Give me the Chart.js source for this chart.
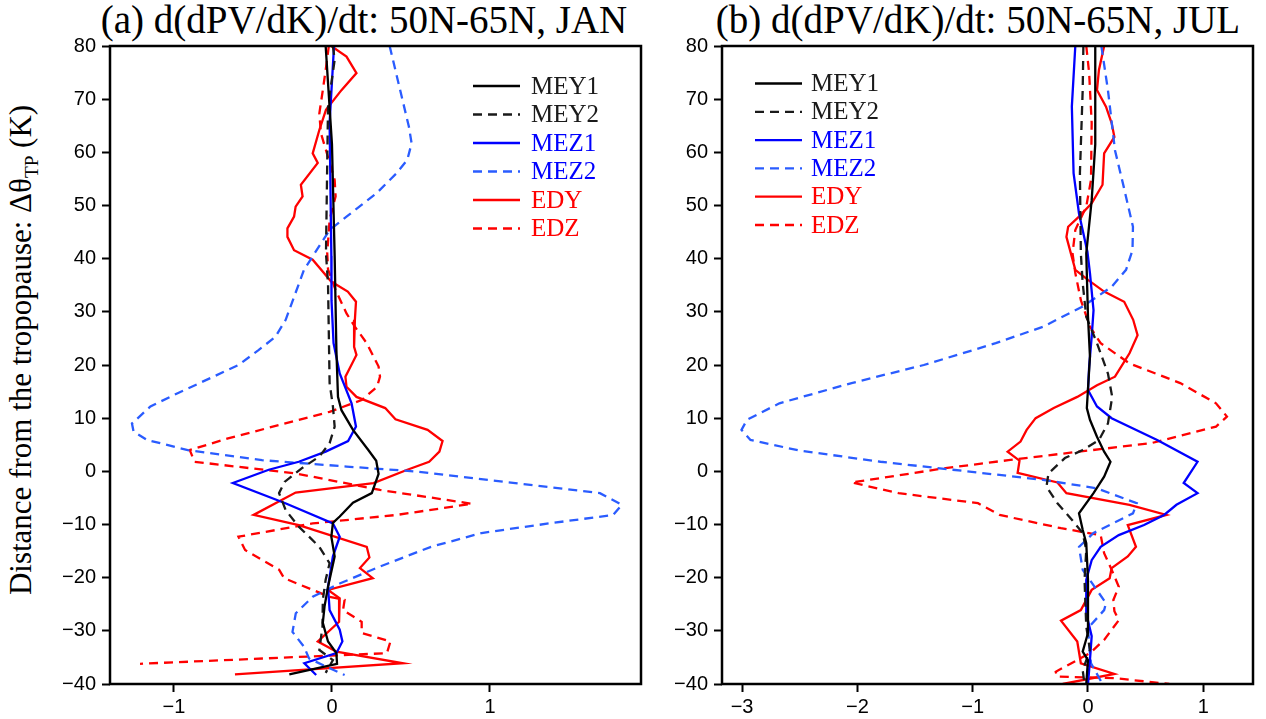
<!DOCTYPE html>
<html>
<head>
<meta charset="utf-8">
<script src="https://cdn.jsdelivr.net/npm/chart.js@4"></script>
<style>
  body { margin: 0; background: #fff; width: 1266px; height: 719px; position: relative; overflow: hidden; font-family: "Liberation Serif", serif; }
  canvas { position: absolute; top: 0; }
  #ca { left: 0; }
  #cb { left: 660px; }
  .title { position: absolute; top: -2px; font-size: 39px; line-height: 44px; white-space: nowrap; transform: translateX(-50%); }
  .ylab { position: absolute; left: 23px; top: 350px; font-size: 31px; white-space: nowrap; transform: translate(-50%, -50%) rotate(-90deg); }
  .ylab sub { font-size: 62%; }
</style>
</head>
<body>
<div class="title" style="left:364px">(a) d(dPV/dK)/dt: 50N-65N, JAN</div>
<div class="title" style="left:978px">(b) d(dPV/dK)/dt: 50N-65N, JUL</div>
<div class="ylab">Distance from the tropopause: Δθ<sub>TP</sub> (K)</div>
<canvas id="ca" width="660" height="719"></canvas>
<canvas id="cb" width="606" height="719"></canvas>
<script>
// axis ticks
const yTicks = [-40, -30, -20, -10, 0, 10, 20, 30, 40, 50, 60, 70, 80];
const janXTicks = [-1, 0, 1];
const julXTicks = [-3, -2, -1, 0, 1];
const seriesNames = ['MEY1', 'MEY2', 'MEZ1', 'MEZ2', 'EDY', 'EDZ'];

// profiles as [value, delta theta]
// JAN
const janMEY1 = [[-0.04,80],[0,61.5],[0.017,40.5],[0.028,22.8],[0.038,14],[0.06,11.5],[0.133,7.8],[0.23,4],[0.28,2],[0.295,-0.5],[0.252,-4.1],[0.133,-5.9],[0.049,-8.5],[0.006,-9.7],[-0.004,-12.3],[0.017,-16],[-0.025,-21.7],[-0.047,-25.4],[-0.058,-28.5],[-0.025,-32],[0.028,-34.2],[0.032,-36.2],[-0.27,-38.2]];
const janMEY2 = [[0.006,80],[0.017,77.4],[-0.025,68.6],[-0.038,41],[-0.025,35.3],[-0.015,16.6],[0.006,12.2],[0.017,8.4],[-0.015,5.3],[-0.079,2.8],[-0.19,0.6],[-0.3,-2],[-0.335,-4.1],[-0.293,-7.3],[-0.21,-10.4],[-0.08,-14.2],[-0.015,-17.3],[-0.04,-20.4],[-0.058,-24.2],[-0.06,-29.2],[-0.08,-33.6],[0.006,-35.5],[-0.04,-37.9]];
const janMEZ1 = [[0.013,80],[-0.015,65.6],[-0.004,40.5],[-0.003,32.2],[0.01,24.1],[0.049,18.4],[0.124,12.8],[0.152,8.4],[0.102,5.7],[-0.04,3.7],[-0.21,1.8],[-0.4,0.3],[-0.627,-2.2],[-0.295,-6],[0.006,-9.8],[0.049,-12.3],[0.006,-16],[-0.025,-21.7],[-0.015,-26.1],[0.049,-29.8],[0.066,-32],[0.028,-34.2],[-0.175,-36.1],[-0.1,-38.3]];
const janMEZ2 = [[0.365,80],[0.487,64.8],[0.504,61.7],[0.477,58.6],[0.41,56.1],[0.285,52.4],[0.092,47.9],[-0.015,45.4],[-0.11,41],[-0.177,37.9],[-0.293,28.5],[-0.358,25.3],[-0.465,22.8],[-0.592,20],[-0.765,17.6],[-0.977,14.7],[-1.149,12.2],[-1.266,9],[-1.256,7.5],[-1.17,5.9],[-0.913,4],[-0.443,2.1],[0.092,0.9],[0.519,0],[1.16,-2.2],[1.696,-4.1],[1.834,-6.3],[1.78,-8.2],[1.373,-9.8],[0.947,-11.6],[0.627,-14.2],[0.304,-17.9],[0.049,-21.1],[-0.122,-23.6],[-0.229,-26.7],[-0.25,-30.2],[-0.177,-33],[-0.145,-35.2],[-0.038,-36.7],[0.08,-38.3]];
const janEDY = [[-0.005,80],[0.092,78],[0.155,74.9],[0.06,71.7],[-0.038,68],[-0.08,64.2],[-0.122,59.8],[-0.09,58],[-0.197,53.9],[-0.186,51.7],[-0.23,49.8],[-0.24,47.9],[-0.282,45.7],[-0.282,44.1],[-0.24,41.6],[-0.122,39.8],[-0.005,35.7],[0.1,33.8],[0.152,31.9],[0.145,28.5],[0.14,23.4],[0.155,21.9],[0.085,17.8],[0.092,15.9],[0.155,14],[0.337,11.9],[0.402,9.8],[0.605,7.8],[0.7,5.7],[0.68,3.7],[0.615,1.8],[0.477,0.3],[0.263,-2.2],[-0.23,-4],[-0.496,-8.2],[-0.21,-10.1],[0.22,-14.2],[0.237,-16.2],[0.177,-18.2],[0.258,-20.1],[-0.025,-22.3],[0.049,-23.9],[0.045,-28.3],[-0.09,-32],[0.028,-33.9],[0.45,-36.1],[-0.614,-38.2]];
const janEDZ = [[-0.02,80],[-0.037,76.1],[-0.058,71.7],[-0.08,67.3],[-0.07,63.6],[-0.038,60.4],[0.017,54.8],[0.023,51.7],[-0.015,47.3],[-0.03,41],[-0.025,38],[0.023,34.1],[0.092,29.7],[0.145,27.2],[0.22,24.1],[0.295,19.7],[0.304,17.8],[0.285,15.9],[0.188,13.4],[-0.015,11.2],[-0.335,8.7],[-0.658,6.2],[-0.9,4],[-0.87,1.8],[-0.23,-0.4],[0.304,-3.5],[0.887,-6.1],[0.41,-8.2],[-0.122,-9.8],[-0.592,-12.3],[-0.55,-14.8],[-0.335,-18.5],[-0.303,-20.1],[-0.122,-22.3],[-0.015,-23.6],[0.08,-24.2],[0.07,-26.1],[0.188,-28.3],[0.188,-30.4],[0.37,-32],[0.348,-34.2],[-1.215,-36.2]];
// JUL
const julMEY1 = [[0.063,80],[0.063,61.5],[0.032,51],[-0.015,41],[0,29.1],[0.017,21.6],[-0.01,11.9],[0.017,9.7],[0.078,6.5],[0.14,3.7],[0.195,1.8],[0.14,-1],[0.048,-4.1],[-0.078,-7.9],[-0.046,-11],[-0.015,-13.5],[0,-20.4],[0,-30.4],[-0.046,-33.9],[0,-35.5],[-0.015,-40]];
const julMEY2 = [[-0.04,80],[-0.046,71.7],[-0.07,56.1],[-0.062,41],[-0.046,35.4],[-0.015,29.1],[0.078,24.1],[0.173,18.4],[0.21,14],[0.173,9],[0.095,5.9],[-0.046,4],[-0.2,2.5],[-0.343,-0.4],[-0.36,-2.9],[-0.265,-6],[-0.14,-9.1],[-0.046,-11.6],[-0.015,-14.8],[-0.03,-20.4],[-0.015,-29.2],[0.017,-33.6],[-0.046,-37.4],[-0.03,-40]];
const julMEZ1 = [[-0.11,80],[-0.14,68.6],[-0.125,56.1],[-0.078,48.5],[-0.005,41.3],[0.017,37.3],[0.048,30.3],[0.032,25.3],[0.01,19.7],[0,15.3],[0.078,12.2],[0.205,10],[0.6,5.9],[0.95,1.8],[0.83,-2.2],[0.95,-4.1],[0.767,-6.3],[0.66,-8.2],[0.486,-10.1],[0.267,-12],[0.11,-14.2],[0.032,-16.7],[-0.015,-20.4],[-0.015,-26.7],[0.032,-31],[0.017,-35.5],[0,-40]];
const julMEZ2 = [[0.116,80],[0.173,71.7],[0.234,60.4],[0.31,53.5],[0.39,46],[0.386,41.6],[0.33,37.9],[0.205,34.7],[-0.046,31],[-0.39,27.2],[-0.8,24.1],[-1.424,20],[-2.05,16.6],[-2.676,12.8],[-2.957,9.7],[-3.005,7.8],[-2.927,5.9],[-2.5,3.9],[-1.8,1.8],[-1.173,0.3],[-0.39,-1.6],[0.078,-3.2],[0.423,-6],[0.39,-7.9],[0.048,-11.6],[-0.078,-14.2],[-0.046,-18.5],[0.156,-24.8],[0.14,-26.1],[0,-29.5],[0.017,-34.2],[0.026,-36.1],[0.126,-40]];
const julEDY = [[0.14,80],[0.095,75.5],[0.078,71.7],[0.156,68.6],[0.205,65.5],[0.229,62.9],[0.14,59.8],[0.126,53.9],[0.032,50.4],[-0.078,47.9],[-0.172,46],[-0.187,44.1],[-0.156,41.6],[-0.11,37.9],[0,36],[0.14,33.8],[0.314,31.9],[0.392,28.5],[0.43,25.6],[0.36,22.2],[0.234,17.8],[0.078,16.2],[-0.093,14],[-0.297,11.9],[-0.454,10],[-0.532,7.8],[-0.585,5.6],[-0.697,3.7],[-0.594,2],[-0.61,-0.3],[-0.265,-2.1],[-0.187,-4.1],[0.36,-6.3],[0.68,-8.2],[0.345,-10.1],[0.416,-14.2],[0.345,-16],[0.205,-18.2],[0.188,-20.1],[0.032,-22.3],[-0.062,-26.1],[-0.234,-28.1],[-0.093,-32],[-0.062,-36.1],[0.229,-38.1],[-0.219,-40]];
const julEDZ = [[-0.015,80],[0.01,74.9],[0.032,65.5],[0.026,54.8],[-0.015,49.8],[-0.11,45.4],[-0.134,41],[-0.11,37.3],[-0.062,32.2],[0.017,27.2],[0.11,24.1],[0.36,20.3],[0.8,16.6],[1.11,12.8],[1.205,10.3],[1.11,8.4],[0.547,5.3],[-0.078,3.7],[-0.69,2.1],[-1.236,0.6],[-2.05,-2.1],[-1.643,-4.1],[-0.954,-6],[-0.767,-8.2],[-0.234,-10.7],[0.11,-12],[0.14,-15.4],[0.205,-18.5],[0.267,-21.7],[0.22,-24.2],[0.229,-26.3],[0.267,-28],[0.14,-31.7],[0.017,-34.2],[-0.28,-37.7],[-0.27,-38.6],[0.234,-38.9],[0.705,-40]];

const styles = [
  { color: '#000000', text: '#1a1a1a', dash: [] },
  { color: '#1a1a1a', text: '#1a1a1a', dash: [9, 6] },
  { color: '#0000ff', text: '#0000ff', dash: [] },
  { color: '#2a5cff', text: '#0000ff', dash: [9, 6] },
  { color: '#ff0000', text: '#ff0000', dash: [] },
  { color: '#ff0000', text: '#ff0000', dash: [9, 6] }
];

const tickFont = { family: 'Liberation Sans', size: 20 };
const fmt = v => v < 0 ? '\u2212' + Math.abs(v) : String(v);

// box around the plot area
const framePlugin = {
  id: 'frame',
  afterDraw(chart) {
    const { ctx, chartArea: a } = chart;
    ctx.save();
    ctx.strokeStyle = '#000';
    ctx.lineWidth = 2.5;
    ctx.strokeRect(a.left, a.top, a.right - a.left, a.bottom - a.top);
    ctx.restore();
  }
};

// legend inside the plot
const legendPlugin = {
  id: 'inLegend',
  afterDraw(chart, args, opts) {
    const ctx = chart.ctx;
    chart.data.datasets.forEach((ds, i) => {
      const y = opts.y0 + i * opts.dy;
      ctx.save();
      ctx.strokeStyle = ds.borderColor;
      ctx.lineWidth = 2.3;
      ctx.setLineDash(ds.borderDash);
      ctx.beginPath();
      ctx.moveTo(opts.x0, y);
      ctx.lineTo(opts.x1, y);
      ctx.stroke();
      ctx.setLineDash([]);
      ctx.fillStyle = styles[i].text;
      ctx.font = '25px "Liberation Serif"';
      ctx.textBaseline = 'middle';
      ctx.fillText(ds.label, opts.tx, y + 1);
      ctx.restore();
    });
  }
};

function makeChart(id, series, xMin, xMax, xTicks, yWidth, padRight, legendPos) {
  return new Chart(document.getElementById(id), {
    type: 'scatter',
    data: {
      datasets: series.map((s, i) => ({
        label: seriesNames[i],
        data: s.map(p => ({ x: p[0], y: p[1] })),
        showLine: true,
        borderColor: styles[i].color,
        borderWidth: 2.3,
        borderDash: styles[i].dash,
        pointRadius: 0,
        tension: 0,
        fill: false
      }))
    },
    options: {
      responsive: false,
      animation: false,
      layout: { padding: { top: 46, right: padRight, left: 0, bottom: 0 } },
      plugins: { legend: { display: false }, tooltip: { enabled: false }, inLegend: legendPos },
      scales: {
        x: {
          type: 'linear', min: xMin, max: xMax,
          afterBuildTicks: s => { s.ticks = xTicks.map(v => ({ value: v })); },
          afterFit: s => { s.height = 35; },
          grid: { drawOnChartArea: false, tickLength: 8, tickWidth: 2, tickColor: '#000' },
          border: { display: false },
          ticks: { font: tickFont, color: '#000', padding: 3, maxRotation: 0, callback: fmt }
        },
        y: {
          type: 'linear', min: -40, max: 80,
          afterBuildTicks: s => { s.ticks = yTicks.map(v => ({ value: v })); },
          afterFit: s => { s.width = yWidth; },
          grid: { drawOnChartArea: false, tickLength: 8, tickWidth: 2, tickColor: '#000' },
          border: { display: false },
          ticks: { font: tickFont, color: '#000', padding: 6, callback: fmt }
        }
      }
    },
    plugins: [framePlugin, legendPlugin]
  });
}

makeChart('ca', [janMEY1, janMEY2, janMEZ1, janMEZ2, janEDY, janEDZ],
  -1.405, 1.956, janXTicks, 110, 19, { x0: 473, x1: 520, tx: 531, y0: 86, dy: 28.5 });
makeChart('cb', [julMEY1, julMEY2, julMEZ1, julMEZ2, julEDY, julEDZ],
  -3.174, 1.431, julXTicks, 62, 13, { x0: 95, x1: 142, tx: 151, y0: 83.5, dy: 28.3 });
</script>
</body>
</html>
